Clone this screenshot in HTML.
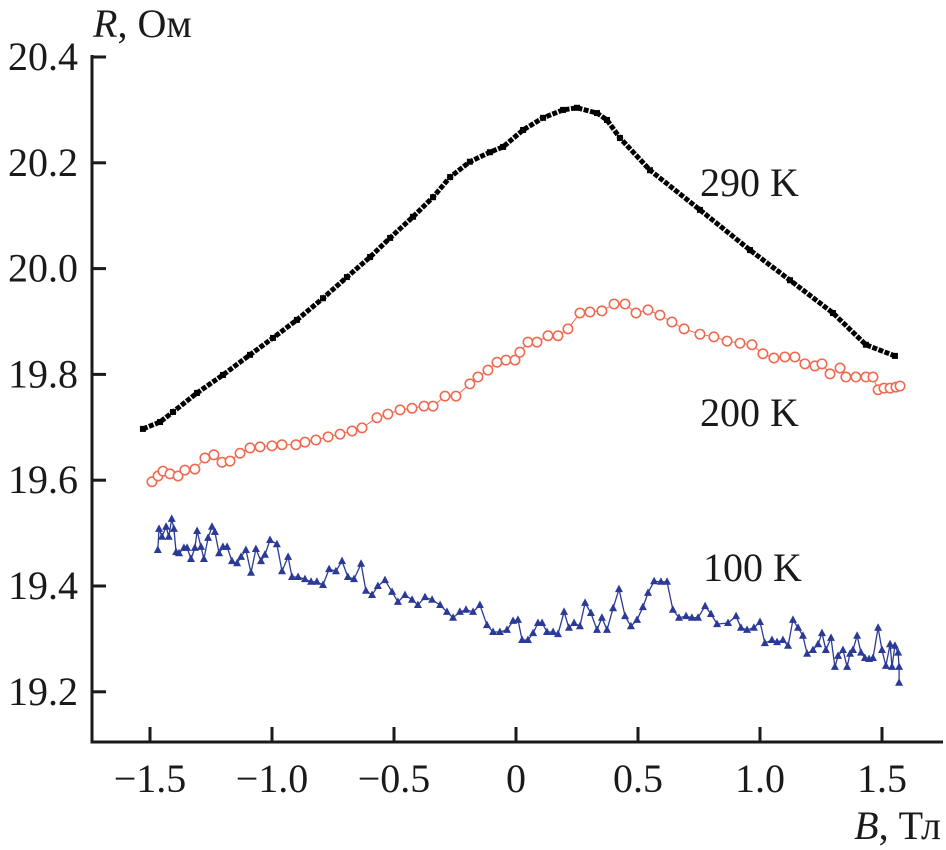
<!DOCTYPE html>
<html><head><meta charset="utf-8"><style>
html,body{margin:0;padding:0;background:#fff;}
svg{display:block;font-family:"Liberation Serif",serif;}
</style></head><body>
<svg id="chart" width="946" height="850" viewBox="0 0 946 850" xmlns="http://www.w3.org/2000/svg">
<g id="axes"></g><g id="series"></g>
<text x="93" y="37" font-size="40" fill="#1a1a1a"><tspan font-style="italic">R</tspan>, Ом</text>
<text x="941" y="839" font-size="40" fill="#1a1a1a" text-anchor="end"><tspan font-style="italic">B</tspan>, Тл</text>
<text x="700" y="196" font-size="40" fill="#1a1a1a">290 K</text>
<text x="700" y="426" font-size="40" fill="#1a1a1a">200 K</text>
<text x="703" y="581" font-size="40" fill="#1a1a1a">100 K</text>
</svg>
<script>
const xTicks=[-1.5,-1.0,-0.5,0,0.5,1.0,1.5];
const xTickLabels=["\u22121.5","\u22121.0","\u22120.5","0","0.5","1.0","1.5"];
const yTicks=[19.2,19.4,19.6,19.8,20.0,20.2,20.4];
const yTickLabels=["19.2","19.4","19.6","19.8","20.0","20.2","20.4"];
const b290=[-1.529,-1.459,-1.406,-1.307,-1.201,-1.090,-0.996,-0.898,-0.791,-0.693,-0.598,-0.516,-0.422,-0.340,-0.270,-0.189,-0.107,-0.053,0.029,0.111,0.193,0.250,0.332,0.373,0.426,0.549,0.754,0.959,1.123,1.299,1.434,1.553];
const r290=[19.697,19.710,19.729,19.765,19.799,19.837,19.869,19.903,19.944,19.984,20.022,20.058,20.098,20.135,20.173,20.202,20.220,20.230,20.262,20.285,20.300,20.304,20.294,20.281,20.247,20.186,20.111,20.035,19.978,19.916,19.856,19.835];
const b200=[-1.492,-1.467,-1.447,-1.418,-1.385,-1.357,-1.316,-1.275,-1.238,-1.205,-1.172,-1.131,-1.090,-1.049,-1.000,-0.959,-0.902,-0.865,-0.820,-0.770,-0.721,-0.672,-0.631,-0.570,-0.525,-0.475,-0.426,-0.377,-0.340,-0.291,-0.246,-0.189,-0.156,-0.115,-0.078,-0.041,-0.004,0.016,0.049,0.086,0.131,0.172,0.213,0.262,0.303,0.352,0.402,0.447,0.492,0.541,0.590,0.639,0.689,0.754,0.811,0.865,0.918,0.967,1.012,1.057,1.102,1.143,1.184,1.225,1.254,1.287,1.328,1.352,1.393,1.434,1.463,1.484,1.508,1.533,1.557,1.574];
const r200=[19.597,19.608,19.617,19.612,19.608,19.619,19.621,19.642,19.648,19.634,19.636,19.651,19.661,19.663,19.665,19.667,19.667,19.672,19.676,19.682,19.687,19.693,19.699,19.718,19.725,19.733,19.736,19.740,19.740,19.759,19.759,19.782,19.795,19.808,19.823,19.827,19.827,19.842,19.861,19.861,19.873,19.873,19.886,19.916,19.918,19.920,19.933,19.933,19.916,19.922,19.912,19.899,19.886,19.876,19.871,19.863,19.859,19.856,19.839,19.831,19.833,19.833,19.820,19.816,19.820,19.801,19.812,19.795,19.795,19.795,19.795,19.771,19.774,19.774,19.776,19.778];
const b100=[-1.468,-1.463,-1.451,-1.434,-1.423,-1.411,-1.402,-1.393,-1.381,-1.361,-1.348,-1.332,-1.316,-1.307,-1.291,-1.279,-1.262,-1.246,-1.234,-1.217,-1.201,-1.184,-1.164,-1.143,-1.127,-1.107,-1.086,-1.066,-1.045,-1.029,-1.008,-0.980,-0.959,-0.934,-0.918,-0.893,-0.865,-0.840,-0.816,-0.791,-0.766,-0.738,-0.713,-0.689,-0.664,-0.635,-0.615,-0.590,-0.566,-0.537,-0.508,-0.484,-0.455,-0.426,-0.402,-0.373,-0.344,-0.311,-0.283,-0.258,-0.230,-0.205,-0.176,-0.148,-0.119,-0.094,-0.066,-0.037,-0.012,0.008,0.025,0.049,0.070,0.090,0.107,0.127,0.152,0.172,0.197,0.217,0.238,0.262,0.283,0.307,0.332,0.352,0.373,0.398,0.422,0.447,0.471,0.496,0.520,0.541,0.566,0.594,0.619,0.643,0.668,0.697,0.721,0.746,0.775,0.799,0.824,0.869,0.902,0.922,0.947,0.975,1.000,1.020,1.049,1.070,1.094,1.115,1.135,1.156,1.176,1.193,1.217,1.238,1.254,1.270,1.291,1.307,1.320,1.340,1.357,1.369,1.381,1.398,1.414,1.430,1.447,1.463,1.484,1.500,1.516,1.533,1.541,1.553,1.566,1.570,1.570];
const r100=[19.468,19.508,19.493,19.512,19.493,19.527,19.508,19.464,19.462,19.472,19.472,19.451,19.472,19.504,19.474,19.451,19.491,19.512,19.502,19.462,19.474,19.474,19.447,19.443,19.455,19.468,19.425,19.470,19.447,19.459,19.487,19.479,19.428,19.455,19.417,19.417,19.413,19.408,19.408,19.402,19.432,19.428,19.447,19.417,19.413,19.442,19.391,19.383,19.400,19.411,19.389,19.370,19.383,19.374,19.364,19.379,19.374,19.364,19.351,19.340,19.351,19.355,19.351,19.364,19.326,19.313,19.313,19.317,19.334,19.336,19.298,19.298,19.311,19.330,19.330,19.313,19.313,19.309,19.351,19.321,19.330,19.324,19.368,19.349,19.317,19.340,19.317,19.358,19.394,19.343,19.324,19.336,19.360,19.387,19.409,19.408,19.408,19.355,19.340,19.343,19.340,19.340,19.362,19.347,19.328,19.330,19.343,19.321,19.317,19.321,19.332,19.292,19.298,19.294,19.298,19.287,19.336,19.321,19.306,19.272,19.279,19.290,19.311,19.279,19.302,19.247,19.268,19.279,19.247,19.272,19.279,19.306,19.274,19.264,19.262,19.264,19.321,19.279,19.249,19.290,19.247,19.287,19.274,19.247,19.217];

const NS="http://www.w3.org/2000/svg";
function sx(b){return 516+b*244;}
function sy(r){return 57+(20.4-r)*529;}
function mk(tag,attrs,parent){const e=document.createElementNS(NS,tag);for(const k in attrs)e.setAttribute(k,attrs[k]);parent.appendChild(e);return e;}
const axes=document.getElementById('axes');
const series=document.getElementById('series');
const C='#1a1a1a';
const yAxis=mk('line',{x1:92,y1:55,x2:92,y2:743,stroke:C,'stroke-width':3},axes);


const xAxis=mk('line',{x1:90.5,y1:742,x2:943,y2:742,stroke:C,'stroke-width':3},axes);


xTicks.forEach((v,i)=>{
  const t=mk('line',{x1:sx(v),y1:742,x2:sx(v),y2:727,stroke:C,'stroke-width':3},axes);
  
  
  const l=mk('text',{x:sx(v),y:792,'font-size':40,'text-anchor':'middle',fill:C},axes);
  l.textContent=xTickLabels[i];
  
  
});
yTicks.forEach((v,i)=>{
  const t=mk('line',{x1:92,y1:sy(v),x2:106,y2:sy(v),stroke:C,'stroke-width':3},axes);
  
  
  const l=mk('text',{x:78,y:sy(v)+13,'font-size':40,'text-anchor':'end',fill:C},axes);
  l.textContent=yTickLabels[i];
  
  
});
function pts(bs,rs){return bs.map((b,i)=>sx(b).toFixed(1)+','+sy(rs[i]).toFixed(1)).join(' ');}
const l290=mk('polyline',{points:pts(b290,r290),fill:'none',stroke:'#000','stroke-width':5,'stroke-linejoin':'round','stroke-dasharray':'5 1.5'},series);


b290.forEach((b,i)=>{
  const s=mk('rect',{x:sx(b)-3,y:sy(r290[i])-3,width:6,height:6,fill:'#000'},series);
  
  
});
const l200=mk('polyline',{points:pts(b200,r200),fill:'none',stroke:'#f06a50','stroke-width':1},series);


b200.forEach((b,i)=>{
  const c=mk('circle',{cx:sx(b),cy:sy(r200[i]),r:4.7,fill:'#fff',stroke:'#f06a50','stroke-width':1.6},series);
  
  
});
const l100=mk('polyline',{points:pts(b100,r100),fill:'none',stroke:'#2b3a96','stroke-width':1.3},series);


b100.forEach((b,i)=>{
  const x=sx(b),y=sy(r100[i]);
  const p=mk('polygon',{points:`${x},${y-4.5} ${x-4},${y+3} ${x+4},${y+3}`,fill:'#2b3a96'},series);
  
  
});
</script>
</body></html>
